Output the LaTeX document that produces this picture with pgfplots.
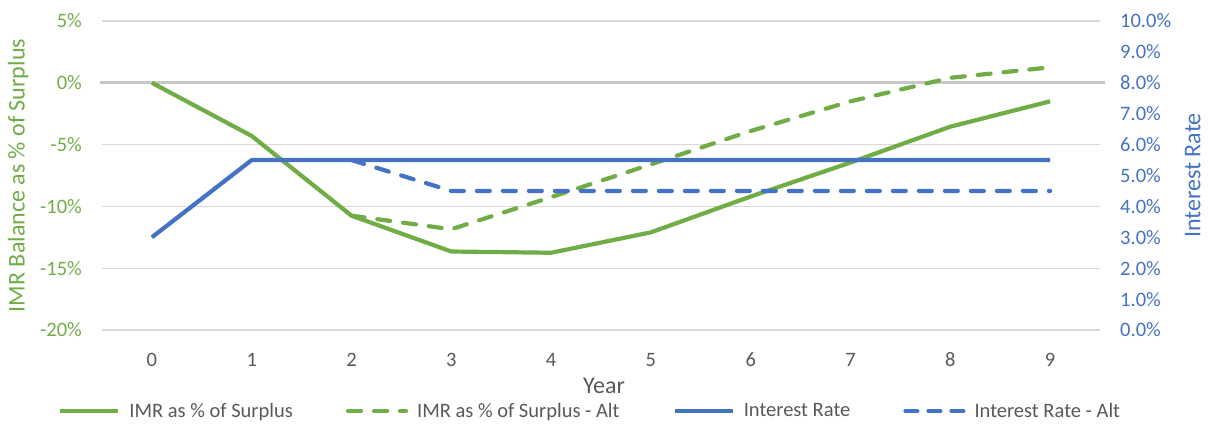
\documentclass[border=0pt]{standalone}
\usepackage{pgfplots}
\pgfplotsset{compat=1.18}
\usepackage{fontspec}
\setmainfont{Carlito}
\usetikzlibrary{calc}

\definecolor{imrgreen}{HTML}{70AD47}
\definecolor{rateblue}{HTML}{4472C4}
\definecolor{gridgray}{HTML}{D9D9D9}
\definecolor{zerogray}{HTML}{C8C8C8}
\definecolor{textgray}{HTML}{595959}

\newcommand{\tickfont}{\fontsize{20.5bp}{24bp}\selectfont}
\newcommand{\titlefont}{\fontsize{24bp}{28bp}\selectfont}

\pgfplotsset{
  common/.style={
    scale only axis,
    width=998bp, height=309bp,
    xmin=-0.5, xmax=9.5,
    axis line style={draw=none},
    major tick length=0pt,
    clip=false,
  },
  legline/.style={
    legend image code/.code={\draw[##1] (0bp,0bp) -- (58bp,0bp);}
  },
  serie/.style={line width=4.2bp, line join=round},
  dashed serie/.style={serie, line cap=round, dash pattern=on 13bp off 13bp},
}

\begin{document}
\begin{tikzpicture}
% left axis: IMR balance as a share of surplus
\begin{axis}[
  common,
  name=left,
  ymin=-20, ymax=5,
  ytick={-20,-15,-10,-5,0,5},
  yticklabels={-20\%,-15\%,-10\%,-5\%,0\%,5\%},
  xtick={0,...,9},
  xticklabels={0,1,2,3,4,5,6,7,8,9},
  ymajorgrids,
  grid style={gridgray, line width=1.2bp},
  y tick label style={font=\tickfont, text=imrgreen, anchor=east, inner sep=0pt, xshift=-20bp},
  x tick label style={font=\tickfont, text=textgray, anchor=center, inner sep=0pt, yshift=-30bp},
  ylabel={IMR Balance as \% of Surplus},
  every axis y label/.style={at={(axis description cs:-0.084,0.5)}, rotate=90, anchor=center, font=\titlefont, text=imrgreen},
  xlabel={Year},
  every axis x label/.style={at={(axis description cs:0.503,-0.181)}, anchor=center, font=\titlefont, text=textgray},
  legend columns=4,
  legend style={
    at={(axis description cs:-0.0441,-0.262)}, anchor=west, inner sep=0pt,
    draw=none, fill=none, font=\tickfont, text=textgray,
    /tikz/every odd column/.append style={column sep=7bp},
    /tikz/every even column/.append style={column sep=51bp},
  },
  legend cell align=left,
]
\draw[zerogray, line width=3bp] (rel axis cs:-0.002,0.8) -- (rel axis cs:1.005,0.8);

\addplot[imrgreen, serie, legline]
  coordinates {(0,0) (1,-4.3) (2,-10.75) (3,-13.65) (4,-13.75) (5,-12.1) (6,-9.2) (7,-6.45) (8,-3.55) (9,-1.5)};
\addlegendentry{IMR as \% of Surplus}

\addplot[imrgreen, dashed serie, legline]
  coordinates {(2,-10.75) (3,-11.85) (4,-9.25) (5,-6.6) (6,-3.9) (7,-1.5) (8,0.4) (9,1.25)};
\addlegendentry{IMR as \% of Surplus - Alt}

% legend entries for the secondary-axis series
\addlegendimage{rateblue, serie, legline}
\addlegendentry{Interest Rate}
\addlegendimage{rateblue, serie, line cap=round, dash pattern=on 12bp off 11bp, legline}
\addlegendentry{Interest Rate - Alt}
\end{axis}

% right axis: interest rate
\begin{axis}[
  common,
  ymin=0, ymax=10,
  ytick={0,1,...,10},
  yticklabels={0.0\%,1.0\%,2.0\%,3.0\%,4.0\%,5.0\%,6.0\%,7.0\%,8.0\%,9.0\%,10.0\%},
  axis y line*=right,
  axis x line=none,
  y tick label style={font=\tickfont, text=rateblue, anchor=west, inner sep=0pt, xshift=20bp},
  ylabel={Interest Rate},
  every axis y label/.style={at={(axis description cs:1.093,0.5)}, rotate=90, anchor=center, font=\titlefont, text=rateblue},
]
\addplot[rateblue, serie]
  coordinates {(0,3.0) (1,5.5) (2,5.5) (3,5.5) (4,5.5) (5,5.5) (6,5.5) (7,5.5) (8,5.5) (9,5.5)};
\addplot[rateblue, dashed serie]
  coordinates {(2,5.5) (3,4.5) (4,4.5) (5,4.5) (6,4.5) (7,4.5) (8,4.5) (9,4.5)};
\end{axis}

\path[use as bounding box] ($(left.south west)+(-102bp,-94bp)$) rectangle ($(left.north east)+(108bp,21bp)$);
\end{tikzpicture}
\end{document}
